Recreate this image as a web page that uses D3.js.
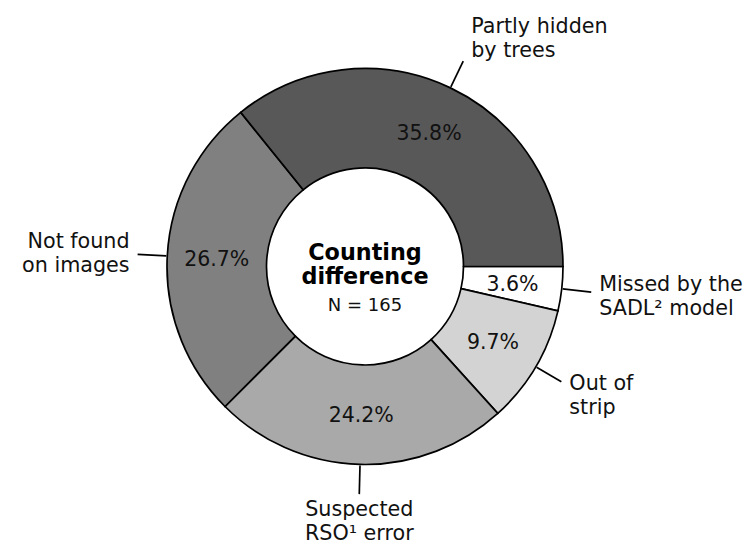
<!DOCTYPE html>
<html>
<head>
<meta charset="utf-8">
<script src="https://cdn.jsdelivr.net/npm/d3@7"></script>
<style>
  html, body { margin: 0; padding: 0; background: #fff; }
  svg { display: block; font-family: "DejaVu Sans", sans-serif; }
</style>
</head>
<body>
<svg id="chart" width="748" height="544"></svg>
<script>
// Reasons for the counting difference, clockwise from 3 o'clock
const categories = [
  "Missed by the SADL² model",
  "Out of strip",
  "Suspected RSO¹ error",
  "Not found on images",
  "Partly hidden by trees"
];
const labelLines = [
  ["Missed by the", "SADL² model"],
  ["Out of", "strip"],
  ["Suspected", "RSO¹ error"],
  ["Not found", "on images"],
  ["Partly hidden", "by trees"]
];
const percentages = [3.6, 9.7, 24.2, 26.7, 35.8];
const sliceColors = ["#ffffff", "#d3d3d3", "#a9a9a9", "#808080", "#585858"];
const centerTitle = ["Counting", "difference"];
const centerNote = "N = 165";

const width = 748, height = 544;
const cx = 365, cy = 266.5;
const outerR = 198, innerR = 98.5;

const svg = d3.select("#chart");
svg.append("rect").attr("width", width).attr("height", height).attr("fill", "#fff");
const g = svg.append("g").attr("transform", `translate(${cx},${cy})`);

const data = categories.map((c, i) => ({ name: c, lines: labelLines[i], value: percentages[i], color: sliceColors[i] }));

const pie = d3.pie()
  .sort(null)
  .value(d => d.value)
  .startAngle(Math.PI / 2)
  .endAngle(Math.PI / 2 + 2 * Math.PI);

const arcs = pie(data);
const arc = d3.arc().innerRadius(innerR).outerRadius(outerR);

// wedges
g.selectAll("path.slice")
  .data(arcs)
  .join("path")
  .attr("class", "slice")
  .attr("d", arc)
  .attr("fill", d => d.data.color)
  .attr("stroke", "#000")
  .attr("stroke-width", 1.7)
  .attr("stroke-linejoin", "miter");

// percentage labels inside the ring
const pctR = 0.75 * outerR;
const pctSize = 20.5;
g.selectAll("text.pct")
  .data(arcs)
  .join("text")
  .attr("class", "pct")
  .attr("x", d => pctR * Math.sin((d.startAngle + d.endAngle) / 2))
  .attr("y", d => -pctR * Math.cos((d.startAngle + d.endAngle) / 2))
  .attr("dy", "0.36em")
  .attr("text-anchor", "middle")
  .attr("font-size", pctSize)
  .attr("fill", "#111")
  .text(d => d.data.value.toFixed(1) + "%");

// leader lines and category labels outside the ring
const r1 = outerR * 1.005, r2 = outerR * 1.15;
const lineH = 24, fs = 20.7;
arcs.forEach(d => {
  const a = (d.startAngle + d.endAngle) / 2;
  const s = Math.sin(a), c = Math.cos(a);
  const x2 = r2 * s, y2 = -r2 * c;
  g.append("line")
    .attr("x1", r1 * s).attr("y1", -r1 * c)
    .attr("x2", x2).attr("y2", y2)
    .attr("stroke", "#000")
    .attr("stroke-width", 1.7);

  let anchor, tx;
  if (Math.abs(s) < 0.3) { anchor = "middle"; tx = x2; }
  else if (s > 0) { anchor = "start"; tx = x2 + 8; }
  else { anchor = "end"; tx = x2 - 8; }

  const blockCenter = y2 - c * 26;
  const n = d.data.lines.length;
  const firstCenter = blockCenter - (n - 1) * lineH / 2;
  const t = g.append("text")
    .attr("text-anchor", anchor)
    .attr("font-size", fs)
    .attr("fill", "#111");
  d.data.lines.forEach((ln, i) => {
    t.append("tspan")
      .attr("x", tx)
      .attr("y", firstCenter + i * lineH + 0.36 * fs)
      .text(ln);
  });
});

// centre caption
g.append("text")
  .attr("text-anchor", "middle")
  .attr("font-size", 22.3)
  .attr("font-weight", "bold")
  .attr("fill", "#000")
  .selectAll("tspan")
  .data(centerTitle)
  .join("tspan")
  .attr("x", 0)
  .attr("y", (d, i) => -7 + i * 24)
  .text(d => d);

g.append("text")
  .attr("text-anchor", "middle")
  .attr("font-size", 18)
  .attr("fill", "#111")
  .attr("x", 0)
  .attr("y", 44)
  .text(centerNote);
</script>
</body>
</html>
